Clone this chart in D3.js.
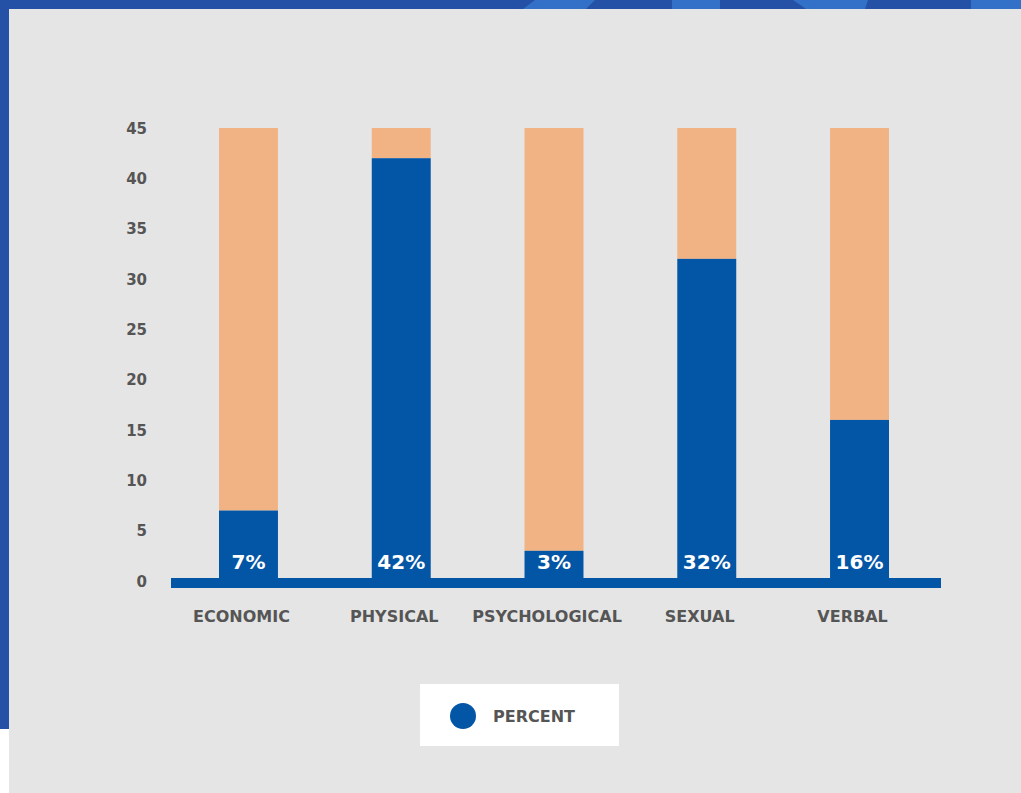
<!DOCTYPE html>
<html>
<head>
<meta charset="utf-8">
<script src="https://cdn.jsdelivr.net/npm/d3@7"></script>
<style>
  html, body { margin: 0; padding: 0; background: #ffffff; }
  svg { display: block; }
  text { font-family: "DejaVu Sans", "Open Sans", sans-serif; font-weight: bold; }
</style>
</head>
<body>
<svg id="chart" width="1021" height="793"></svg>
<script>
// Share of reported violence by type (percent)
const categories = ["ECONOMIC", "PHYSICAL", "PSYCHOLOGICAL", "SEXUAL", "VERBAL"];
const percentValues = [7, 42, 3, 32, 16];
const yTicks = [0, 5, 10, 15, 20, 25, 30, 35, 40, 45];
const yMax = 45;
const legendLabels = ["PERCENT"];

const W = 1021, H = 793;
const svg = d3.select("#chart");

// Frame: dark blue border with lighter accents along the top
svg.append("rect").attr("x", 0).attr("y", 0).attr("width", W).attr("height", 9).attr("fill", "#2450a6");
svg.append("rect").attr("x", 0).attr("y", 0).attr("width", 9).attr("height", 729).attr("fill", "#2450a6");
const accents = [
  [[535, 0], [595, 0], [586, 9], [523, 9]],
  [[672, 0], [720, 0], [720, 9], [672, 9]],
  [[793, 0], [868, 0], [865, 9], [806, 9]],
  [[971, 0], [1021, 0], [1021, 9], [971, 9]]
];
svg.selectAll("polygon.accent").data(accents).join("polygon")
  .attr("class", "accent")
  .attr("points", d => d.map(p => p.join(",")).join(" "))
  .attr("fill", "#3370c8");

// Grey panel
svg.append("rect").attr("x", 9).attr("y", 9).attr("width", W - 9).attr("height", H - 9).attr("fill", "#e5e5e5");

// Scales
const x = d3.scaleBand().domain(categories).range([219, 889]).paddingInner(0.614).paddingOuter(0);
const y = d3.scaleLinear().domain([0, yMax]).range([581, 128]);

const blue = "#0356a6";
const orange = "#f1b384";

// Y-axis tick labels
const yAxis = d3.axisLeft(y).tickValues(yTicks).tickSize(0).tickPadding(0).tickFormat(d3.format("d"));
const gy = svg.append("g").attr("transform", "translate(147,0)").call(yAxis);
gy.select(".domain").remove();
gy.selectAll("text")
  .attr("font-size", 15)
  .attr("fill", "#555555")
  .attr("text-anchor", "end")
  .attr("dy", "0.35em")
  .style("font-family", "'DejaVu Sans', sans-serif")
  .style("font-weight", "bold");

// Remainder (to full scale) in orange
svg.selectAll("rect.rest").data(percentValues).join("rect")
  .attr("class", "rest")
  .attr("x", (d, i) => x(categories[i]))
  .attr("width", x.bandwidth())
  .attr("y", y(yMax))
  .attr("height", d => y(d) - y(yMax))
  .attr("fill", orange);

// Percent value in blue
svg.selectAll("rect.val").data(percentValues).join("rect")
  .attr("class", "val")
  .attr("x", (d, i) => x(categories[i]))
  .attr("width", x.bandwidth())
  .attr("y", d => y(d))
  .attr("height", d => y(0) - y(d))
  .attr("fill", blue);

// Baseline bar
svg.append("rect").attr("x", 171).attr("y", 578).attr("width", 770).attr("height", 10).attr("fill", blue);

// Value labels inside bars
svg.selectAll("text.val").data(percentValues).join("text")
  .attr("class", "val")
  .attr("x", (d, i) => x(categories[i]) + x.bandwidth() / 2)
  .attr("y", 569)
  .attr("text-anchor", "middle")
  .attr("font-size", 20)
  .attr("fill", "#ffffff")
  .text(d => d + "%");

// Category labels
const xAxis = d3.axisBottom(x).tickSize(0).tickPadding(0);
const gx = svg.append("g").attr("transform", "translate(-7,611)").call(xAxis);
gx.select(".domain").remove();
gx.selectAll("text")
  .attr("font-size", 16)
  .attr("fill", "#555555")
  .attr("dy", "0.7em")
  .style("font-family", "'DejaVu Sans', sans-serif")
  .style("font-weight", "bold");

// Legend
const lg = svg.append("g").attr("transform", "translate(420,684)");
lg.append("rect").attr("width", 199).attr("height", 62).attr("fill", "#ffffff");
lg.selectAll("circle").data(legendLabels).join("circle")
  .attr("cx", 43).attr("cy", 32).attr("r", 13).attr("fill", blue);
lg.selectAll("text").data(legendLabels).join("text")
  .attr("x", 73).attr("y", 38)
  .attr("font-size", 16)
  .attr("fill", "#555555")
  .text(d => d);
</script>
</body>
</html>
